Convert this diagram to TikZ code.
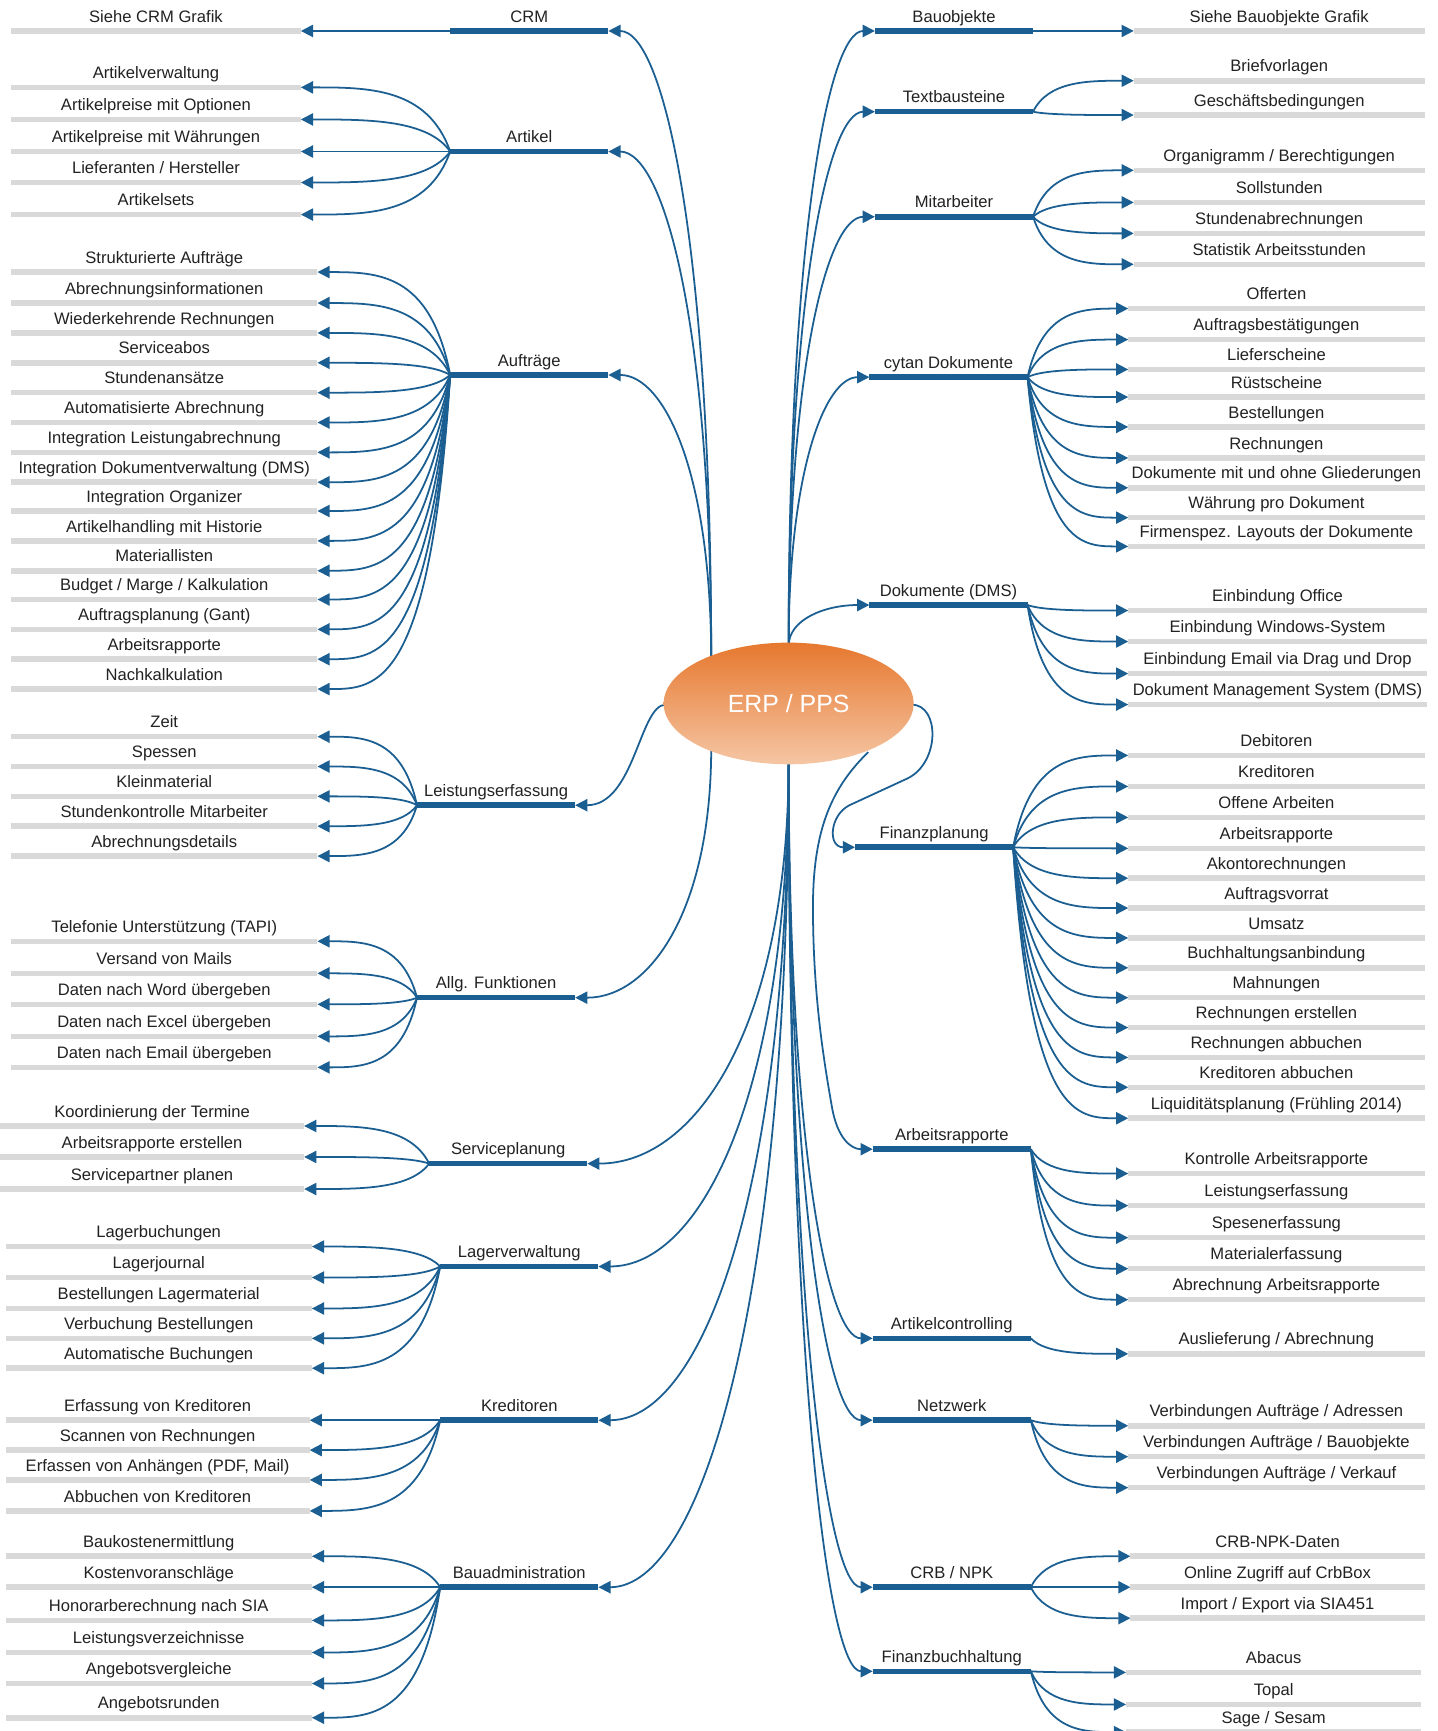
\documentclass[tikz,border=0pt]{standalone}
\usepackage{fontspec}
\setmainfont{Liberation Sans}
\usetikzlibrary{arrows.meta,calc,shapes.geometric}
\definecolor{cblue}{HTML}{1B5E91}
\definecolor{cgray}{HTML}{D9D9D9}
\definecolor{ctext}{HTML}{222222}
\definecolor{otop}{HTML}{E6782F}
\definecolor{obot}{HTML}{F5C6A4}
\pgfdeclarelayer{bg}
\pgfsetlayers{bg,main}
\newcommand\mmleaf[5]{%
  \draw[grayline] (#2,#4) coordinate (#1a) -- (#3,#4) coordinate (#1b);
  \node[lab] (#1t) at ({(#2+#3)/2},{#4-8}) {#5};}
\newcommand\mmhub[5]{%
  \draw[hubline] (#2,#4) coordinate (#1a) -- (#3,#4) coordinate (#1b);
  \node[lab] (#1t) at ({(#2+#3)/2},{#4-8}) {#5};}
\newcommand\mmfan[2]{\begin{pgfonlayer}{bg}\draw[conn] let \p1=(#1), \p2=(#2) in (\p1) .. controls ({\x1+0.15*(\x2-\x1)},\y2) and ({\x1+0.55*(\x2-\x1)},\y2) .. (\p2);\end{pgfonlayer}}
\newcommand\mmtrunk[2]{\begin{pgfonlayer}{bg}\draw[conn] let \p1=(#1), \p2=(#2) in (\p1) .. controls (\x1,{\y1+0.65*(\y2-\y1)}) and ({\x2+0.55*(\x1-\x2)},\y2) .. (\p2);\end{pgfonlayer}}
\begin{document}
\begin{tikzpicture}[x=1pt,y=-1pt,
  conn/.style={draw=cblue,line width=1.6pt,-{Triangle[length=11pt,width=11pt]}},
  hubline/.style={draw=cblue,line width=5pt},
  grayline/.style={draw=cgray,line width=5pt},
  lab/.style={font=\fontsize{15}{17}\selectfont,text=ctext,anchor=base,inner sep=0pt}]
\useasboundingbox (0,0) rectangle (1300,1565);
\begin{pgfonlayer}{bg}\fill[white] (0,0) rectangle (1300,1565);\end{pgfonlayer}
% centre
\node[ellipse,minimum width=226pt,minimum height=110pt,inner sep=0pt,top color=otop,bottom color=obot,text=white,font=\fontsize{22.5}{25}\selectfont] (erp) at (713,636) {ERP / PPS};
\coordinate (tl) at (643,596);
\coordinate (tr) at (713,584);
\coordinate (bl) at (643,676);
\coordinate (br) at (713,688);
\coordinate (el) at (602,637);
\coordinate (er) at (824,637);
\coordinate (ebr) at (785,680);
% left hubs
\mmhub{hcrm}{407}{550}{28}{CRM}
\mmhub{hart}{407}{550}{137}{Artikel}
\mmhub{hauf}{407}{550}{339}{Aufträge}
\mmhub{hlei}{377}{520}{728}{Leistungserfassung}
\mmhub{hallg}{377}{520}{902}{Allg. Funktionen}
\mmhub{hsvc}{388}{531}{1052}{Serviceplanung}
\mmhub{hlag}{398}{541}{1145}{Lagerverwaltung}
\mmhub{hkre}{398}{541}{1284}{Kreditoren}
\mmhub{hbau}{398}{541}{1435}{Bauadministration}
% right hubs
\mmhub{hbo}{791}{934}{28}{Bauobjekte}
\mmhub{htb}{791}{934}{101}{Textbausteine}
\mmhub{hma}{791}{934}{196}{Mitarbeiter}
\mmhub{hcd}{786}{929}{341}{cytan Dokumente}
\mmhub{hdms}{786}{929}{547}{Dokumente (DMS)}
\mmhub{hfp}{773}{916}{766}{Finanzplanung}
\mmhub{har}{789}{932}{1039}{Arbeitsrapporte}
\mmhub{hac}{789}{932}{1210}{Artikelcontrolling}
\mmhub{hnw}{789}{932}{1284}{Netzwerk}
\mmhub{hcrb}{789}{932}{1435}{CRB / NPK}
\mmhub{hfb}{789}{932}{1511}{Finanzbuchhaltung}
% trunk connectors
\mmtrunk{tl}{hcrmb}
\mmtrunk{tl}{hartb}
\mmtrunk{tl}{haufb}
\mmtrunk{tr}{hboa}
\mmtrunk{tr}{htba}
\mmtrunk{tr}{hmaa}
\mmtrunk{tr}{hcda}
\mmtrunk{tr}{hdmsa}
\mmtrunk{bl}{hallgb}
\mmtrunk{br}{hsvcb}
\mmtrunk{br}{hlagb}
\mmtrunk{br}{hkreb}
\mmtrunk{br}{hbaub}
\mmtrunk{br}{haca}
\mmtrunk{br}{hnwa}
\mmtrunk{br}{hcrba}
\mmtrunk{br}{hfba}
\begin{pgfonlayer}{bg}
\draw[conn] (el) .. controls (578,637) and (574,728) .. (hleib);
\draw[conn] (er) .. controls (850,637) and (850,690) .. (820,704) -- (768,728) .. controls (750,737) and (748,766) .. (hfpa);
\draw[conn] (ebr) .. controls (752,712) and (735,750) .. (735,820) .. controls (735,900) and (745,960) .. (752,1000) .. controls (757,1030) and (770,1039) .. (hara);
\end{pgfonlayer}
% left leaves
\mmleaf{crm1}{10}{272}{28}{Siehe CRM Grafik}
\begin{pgfonlayer}{bg}\draw[conn] (hcrma) -- (crm1b);\end{pgfonlayer}
\foreach \yy/\tx [count=\i] in {79/{Artikelverwaltung},108/{Artikelpreise mit Optionen},137/{Artikelpreise mit Währungen},165/{Lieferanten / Hersteller},194/{Artikelsets}}
  {\mmleaf{ar\i}{10}{272}{\yy}{\tx}\mmfan{harta}{ar\i b}}
\foreach \yy/\tx [count=\i] in {246/{Strukturierte Aufträge},274/{Abrechnungsinformationen},301/{Wiederkehrende Rechnungen},328/{Serviceabos},355/{Stundenansätze},382/{Automatisierte Abrechnung},409/{Integration Leistungabrechnung},436/{Integration Dokumentverwaltung (DMS)},462/{Integration Organizer},489/{Artikelhandling mit Historie},516/{Materiallisten},542/{Budget / Marge / Kalkulation},569/{Auftragsplanung (Gant)},596/{Arbeitsrapporte},623/{Nachkalkulation}}
  {\mmleaf{au\i}{10}{287}{\yy}{\tx}\mmfan{haufa}{au\i b}}
\foreach \yy/\tx [count=\i] in {666/{Zeit},693/{Spessen},720/{Kleinmaterial},747/{Stundenkontrolle Mitarbeiter},774/{Abrechnungsdetails}}
  {\mmleaf{le\i}{10}{287}{\yy}{\tx}\mmfan{hleia}{le\i b}}
\foreach \yy/\tx [count=\i] in {851/{Telefonie Unterstützung (TAPI)},880/{Versand von Mails},908/{Daten nach Word übergeben},937/{Daten nach Excel übergeben},965/{Daten nach Email übergeben}}
  {\mmleaf{af\i}{10}{287}{\yy}{\tx}\mmfan{hallga}{af\i b}}
\foreach \yy/\tx [count=\i] in {1018/{Koordinierung der Termine},1046/{Arbeitsrapporte erstellen},1075/{Servicepartner planen}}
  {\mmleaf{sv\i}{0}{275}{\yy}{\tx}\mmfan{hsvca}{sv\i b}}
\foreach \yy/\tx [count=\i] in {1127/{Lagerbuchungen},1155/{Lagerjournal},1183/{Bestellungen Lagermaterial},1210/{Verbuchung Bestellungen},1237/{Automatische Buchungen}}
  {\mmleaf{lg\i}{5}{282}{\yy}{\tx}\mmfan{hlaga}{lg\i b}}
\foreach \yy/\tx [count=\i] in {1284/{Erfassung von Kreditoren},1311/{Scannen von Rechnungen},1338/{Erfassen von Anhängen (PDF, Mail)},1366/{Abbuchen von Kreditoren}}
  {\mmleaf{kr\i}{5}{280}{\yy}{\tx}\mmfan{hkrea}{kr\i b}}
\foreach \yy/\tx [count=\i] in {1407/{Baukostenermittlung},1435/{Kostenvoranschläge},1465/{Honorarberechnung nach SIA},1494/{Leistungsverzeichnisse},1522/{Angebotsvergleiche},1553/{Angebotsrunden}}
  {\mmleaf{ba\i}{5}{282}{\yy}{\tx}\mmfan{hbaua}{ba\i b}}
% right leaves
\mmleaf{bo1}{1025}{1288}{28}{Siehe Bauobjekte Grafik}
\begin{pgfonlayer}{bg}\draw[conn] (hbob) -- (bo1a);\end{pgfonlayer}
\foreach \yy/\tx [count=\i] in {73/{Briefvorlagen},104/{Geschäftsbedingungen}}
  {\mmleaf{tb\i}{1025}{1288}{\yy}{\tx}\mmfan{htbb}{tb\i a}}
\foreach \yy/\tx [count=\i] in {154/{Organigramm / Berechtigungen},183/{Sollstunden},211/{Stundenabrechnungen},239/{Statistik Arbeitsstunden}}
  {\mmleaf{ma\i}{1025}{1288}{\yy}{\tx}\mmfan{hmab}{ma\i a}}
\foreach \yy/\tx [count=\i] in {279/{Offerten},307/{Auftragsbestätigungen},334/{Lieferscheine},359/{Rüstscheine},386/{Bestellungen},414/{Rechnungen},441/{Dokumente mit und ohne Gliederungen},468/{Währung pro Dokument},494/{Firmenspez. Layouts der Dokumente}}
  {\mmleaf{cd\i}{1020}{1288}{\yy}{\tx}\mmfan{hcdb}{cd\i a}}
\foreach \yy/\tx [count=\i] in {552/{Einbindung Office},580/{Einbindung Windows-System},609/{Einbindung Email via Drag und Drop},637/{Dokument Management System (DMS)}}
  {\mmleaf{dm\i}{1020}{1290}{\yy}{\tx}\mmfan{hdmsb}{dm\i a}}
\foreach \yy/\tx [count=\i] in {683/{Debitoren},711/{Kreditoren},739/{Offene Arbeiten},767/{Arbeitsrapporte},794/{Akontorechnungen},821/{Auftragsvorrat},848/{Umsatz},875/{Buchhaltungsanbindung},902/{Mahnungen},929/{Rechnungen erstellen},956/{Rechnungen abbuchen},983/{Kreditoren abbuchen},1011/{Liquiditätsplanung (Frühling 2014)}}
  {\mmleaf{fp\i}{1020}{1288}{\yy}{\tx}\mmfan{hfpb}{fp\i a}}
\foreach \yy/\tx [count=\i] in {1061/{Kontrolle Arbeitsrapporte},1090/{Leistungserfassung},1119/{Spesenerfassung},1147/{Materialerfassung},1175/{Abrechnung Arbeitsrapporte}}
  {\mmleaf{rp\i}{1020}{1288}{\yy}{\tx}\mmfan{harb}{rp\i a}}
\foreach \yy/\tx [count=\i] in {1224/{Auslieferung / Abrechnung}}
  {\mmleaf{ac\i}{1020}{1288}{\yy}{\tx}\mmfan{hacb}{ac\i a}}
\foreach \yy/\tx [count=\i] in {1289/{Verbindungen Aufträge / Adressen},1317/{Verbindungen Aufträge / Bauobjekte},1345/{Verbindungen Aufträge / Verkauf}}
  {\mmleaf{nw\i}{1020}{1288}{\yy}{\tx}\mmfan{hnwb}{nw\i a}}
\foreach \yy/\tx [count=\i] in {1407/{CRB-NPK-Daten},1435/{Online Zugriff auf CrbBox},1463/{Import / Export via SIA451}}
  {\mmleaf{cr\i}{1022}{1288}{\yy}{\tx}\mmfan{hcrbb}{cr\i a}}
\foreach \yy/\tx [count=\i] in {1512/{Abacus},1541/{Topal},1566/{Sage / Sesam}}
  {\mmleaf{fb\i}{1018}{1285}{\yy}{\tx}\mmfan{hfbb}{fb\i a}}
\end{tikzpicture}
\end{document}
